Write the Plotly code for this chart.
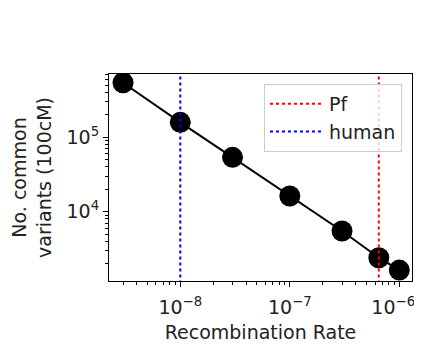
import plotly.graph_objects as go

# Data
recomb_rates = [3e-9, 1e-8, 3e-8, 1e-7, 3e-7, 6.5e-7, 1e-6]
common_variants = [542000, 159000, 53800, 16260, 5510, 2410, 1645]
ref_rates = {"Pf": 6.5e-7, "human": 1e-8}
ref_colors = {"Pf": "red", "human": "blue"}
x_range_log = [-8.651, -5.884]
y_range_log = [3.069, 5.851]
x_tickvals = [1e-8, 1e-7, 1e-6]
x_ticktext = ["10<sup>\u22128</sup>", "10<sup>\u22127</sup>", "10<sup>\u22126</sup>\u00a0\u00a0"]
y_tickvals = [1e4, 1e5]
y_ticktext = ["10<sup>4</sup>", "10<sup>5</sup>"]

FONT = "DejaVu Sans"
FS = 19
TXT = "#222"
fig = go.Figure()

fig.add_trace(go.Scatter(
    x=recomb_rates, y=common_variants, mode="lines+markers",
    line=dict(color="black", width=2),
    marker=dict(color="black", size=21),
    showlegend=False,
))

for name, rate in ref_rates.items():
    fig.add_trace(go.Scatter(
        x=[rate, rate], y=[10 ** (y_range_log[0] - 1), 10 ** (y_range_log[1] + 1)],
        mode="lines", name=name, legendgroup=name,
        line=dict(color=ref_colors[name], width=2, dash="dot"),
    ))

axis_common = dict(
    type="log", showline=True, linecolor="black", linewidth=1.1, mirror=True,
    ticks="outside", ticklen=5, tickwidth=1.1, tickcolor="black",
    showgrid=False, zeroline=False, automargin=False, ticklabeloverflow="allow",
    tickfont=dict(family=FONT, size=FS, color=TXT),
    minor=dict(ticks="outside", ticklen=3, tickwidth=0.8, tickcolor="black", showgrid=False, dtick="D1"),
)

fig.update_xaxes(**axis_common, range=x_range_log, tickvals=x_tickvals, ticktext=x_ticktext,
                 ticklabelstandoff=4,
                 title=dict(text="Recombination Rate", font=dict(family=FONT, size=FS, color=TXT), standoff=8))
fig.update_yaxes(**axis_common, range=y_range_log, tickvals=y_tickvals, ticktext=y_ticktext,
                 title=dict(text="No. common<br>variants (100cM)", font=dict(family=FONT, size=FS, color=TXT), standoff=12))

fig.update_layout(
    width=414, height=339,
    margin=dict(l=101, r=10, t=66, b=66, autoexpand=False),
    paper_bgcolor="white", plot_bgcolor="white",
    font=dict(family=FONT, size=FS, color=TXT),
    legend=dict(
        x=0.967, y=0.952, xanchor="right", yanchor="top",
        bgcolor="rgba(255,255,255,0.8)", bordercolor="#cccccc", borderwidth=1,
        font=dict(family=FONT, size=FS, color=TXT),
        tracegroupgap=0, itemwidth=54,
    ),
)

fig.write_html("out.html")
